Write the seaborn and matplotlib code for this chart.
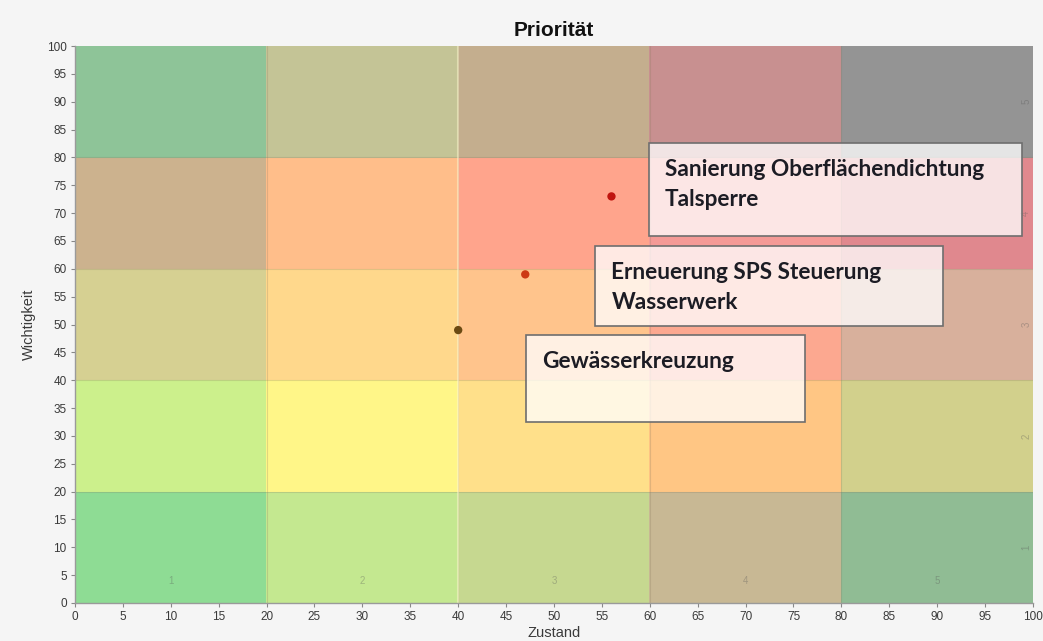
import matplotlib
matplotlib.use("Agg")
import matplotlib.pyplot as plt
from matplotlib.colors import to_rgb
from matplotlib.patches import Rectangle
import numpy as np
import seaborn as sns

# Projects plotted by condition (Zustand) and importance (Wichtigkeit)
projects = [
    "Sanierung Oberflächendichtung\nTalsperre",
    "Erneuerung SPS Steuerung\nWasserwerk",
    "Gewässerkreuzung",
]
zustand = [56, 47, 40]
wichtigkeit = [73, 59, 49]

title = "Priorität"
x_label = "Zustand"
y_label = "Wichtigkeit"
tick_values = list(range(0, 101, 5))
band_centers = [10, 30, 50, 70, 90]
band_numbers = ["1", "2", "3", "4", "5"]

# Matrix background, rows from the bottom band (0-20) to the top band (80-100)
cell_colors = [
    ["#8edc94", "#c4e890", "#c6d890", "#c8b894", "#90bc94"],
    ["#ccf08c", "#fff688", "#ffe08a", "#ffc684", "#d2d08c"],
    ["#d6d092", "#ffd88c", "#ffc48c", "#fca890", "#d8b09c"],
    ["#ccb28e", "#ffbe8a", "#ffa48c", "#f49a96", "#e0888e"],
    ["#8ec498", "#c4c496", "#c4ae8e", "#c89090", "#949494"],
]
point_colors = ["#c0150f", "#cc3a14", "#6b4a12"]

# Label boxes (x0, y0, x1, y1) in data units
label_boxes = [
    (59.9, 65.9, 98.9, 82.6),
    (54.3, 49.7, 90.6, 64.1),
    (47.1, 32.5, 76.2, 48.1),
]

sns.set_theme(style="white")
plt.rcParams["font.family"] = ["Liberation Sans", "DejaVu Sans"]

fig = plt.figure(figsize=(10.43, 6.41), dpi=100, facecolor="#f5f5f5")
ax = fig.add_axes([0.0719, 0.0593, 0.9185, 0.8689])
ax.set_facecolor("#f5f5f5")

rgb = np.array([[to_rgb(c) for c in row] for row in cell_colors])
ax.imshow(rgb, extent=(0, 100, 0, 100), origin="lower",
          interpolation="nearest", aspect="auto", zorder=0)

# subtle seams between the matrix fields
for v in [20, 40, 60, 80]:
    ax.axhline(v, color="#8a7a60", lw=0.8, alpha=0.25, zorder=1)
    ax.axvline(v, color="#8a7a60", lw=0.8, alpha=0.25, zorder=1)
ax.axvline(40, color="#fffbd0", lw=1.5, alpha=0.5, zorder=1)

# faint band numbers along the bottom and the right edge
for c, n in zip(band_centers, band_numbers):
    ax.text(c, 4, n, fontsize=7, color="#555555", alpha=0.35,
            ha="center", va="center", zorder=2)
    ax.text(99.3, c, n, fontsize=7, color="#555555", alpha=0.35,
            ha="center", va="center", rotation=90, zorder=2)

sns.scatterplot(x=zustand, y=wichtigkeit, hue=projects, palette=point_colors,
                s=36, edgecolor="none", legend=False, ax=ax, zorder=5)

for (x0, y0, x1, y1), name in zip(label_boxes, projects):
    ax.add_patch(Rectangle((x0, y0), x1 - x0, y1 - y0, facecolor="white",
                           alpha=0.76, edgecolor="none", zorder=3))
    ax.add_patch(Rectangle((x0, y0), x1 - x0, y1 - y0, facecolor="none",
                           edgecolor="#6e6e6e", lw=1.2, zorder=4))
    ax.text(x0 + 1.7, y1 - 2.9, name, fontsize=16.3, fontweight="bold",
            family=["Lato", "DejaVu Sans"], color="#1c1c24",
            ha="left", va="top", linespacing=1.55, zorder=6)

ax.set_xlim(0, 100)
ax.set_ylim(0, 100)
ax.set_xticks(tick_values)
ax.set_yticks(tick_values)
ax.tick_params(axis="both", labelsize=8.5, labelcolor="#3a3a3a",
               length=3, width=0.8, color="#888888", direction="out",
               bottom=True, left=True, pad=3)
for side in ["top", "right"]:
    ax.spines[side].set_visible(False)
for side in ["left", "bottom"]:
    ax.spines[side].set_color("#9a9a9a")
    ax.spines[side].set_linewidth(1.0)

ax.set_title(title, fontsize=15, fontweight="bold", color="#111111", pad=7)
ax.set_xlabel(x_label, fontsize=10.5, color="#3a3a3a", labelpad=2)
ax.set_ylabel(y_label, fontsize=10.5, color="#3a3a3a", labelpad=8)

fig.savefig("out.png", dpi=100, facecolor=fig.get_facecolor())
